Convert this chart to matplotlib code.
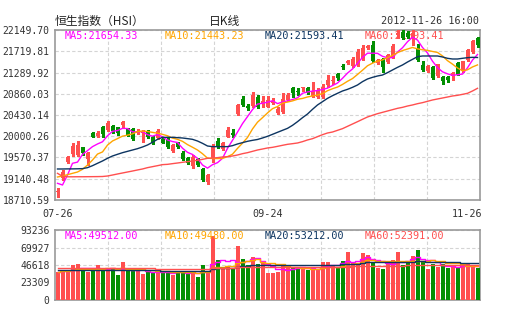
import numpy as np
import pandas as pd
import matplotlib
matplotlib.use("Agg")
import matplotlib.pyplot as plt
from matplotlib.transforms import blended_transform_factory

# HSI daily candles, 2012-07-26 .. 2012-11-26
opens = [18870, 19150, 19485, 19641, 19621, 19776, 19534, 20060, 20005, 20181,
         20126, 20208, 20181, 20228, 20141, 20141, 20060, 20066, 20113, 19992,
         19959, 19939, 19939, 19708, 19857, 19667, 19554, 19398, 19534, 19337,
         19074, 19534, 19910, 19742, 19991, 20060, 20451, 20748, 20612, 20612,
         20800, 20667, 20598, 20679, 20477, 20497, 20734, 20970, 20922, 20986,
         20970, 20815, 20800, 20800, 21037, 21128, 21260, 21415, 21476, 21421,
         21442, 21557, 21779, 21846, 21476, 21557, 21508, 21597, 22049, 22115,
         22083, 21982, 21779, 21448, 21326, 21395, 21213, 21193, 21193, 21213,
         21482, 21326, 21549, 21705, 21982]
highs = [18950, 19318, 19600, 19858, 19904, 19789, 19688, 20086, 20113, 20208,
         20303, 20228, 20194, 20315, 20161, 20167, 20141, 20127, 20127, 20010,
         20147, 19965, 19955, 19840, 19878, 19700, 19575, 19621, 19560, 19360,
         19230, 19844, 19955, 19880, 20194, 20157, 20660, 20815, 20653, 20895,
         20830, 20815, 20815, 20774, 20592, 20869, 20881, 20990, 20976, 21003,
         20990, 21092, 20976, 21057, 21239, 21219, 21280, 21462, 21550, 21603,
         21765, 21846, 21846, 21927, 21560, 21580, 21664, 21867, 22140, 22140,
         22120, 22145, 21867, 21523, 21445, 21415, 21465, 21213, 21210, 21290,
         21500, 21530, 21770, 21947, 22018]
lows = [18775, 19115, 19465, 19607, 19600, 19621, 19419, 19979, 19979, 19985,
        20113, 20066, 20025, 20167, 19998, 19925, 20046, 19890, 19960, 19850,
        19945, 19854, 19772, 19690, 19755, 19520, 19430, 19358, 19400, 19095,
        19044, 19479, 19760, 19720, 19975, 19985, 20430, 20610, 20531, 20600,
        20570, 20598, 20582, 20653, 20460, 20477, 20720, 20800, 20835, 20916,
        20860, 20800, 20774, 20774, 21003, 21057, 21138, 21351, 21462, 21401,
        21421, 21540, 21760, 21502, 21455, 21310, 21490, 21580, 21988, 21960,
        21990, 21846, 21523, 21330, 21310, 21150, 21200, 21057, 21088, 21138,
        21230, 21300, 21530, 21690, 21813]
closes = [18890, 19283, 19587, 19803, 19823, 19667, 19667, 19991, 20072, 20046,
          20274, 20113, 20072, 20295, 20025, 19939, 20113, 20106, 19979, 19870,
          20113, 19870, 19789, 19823, 19776, 19534, 19453, 19574, 19419, 19115,
          19216, 19803, 19777, 19857, 20126, 20030, 20633, 20633, 20566, 20835,
          20586, 20720, 20734, 20720, 20545, 20748, 20835, 20869, 20895, 21003,
          20881, 20922, 20922, 21003, 21138, 21148, 21173, 21401, 21529, 21557,
          21711, 21779, 21826, 21529, 21543, 21407, 21644, 21826, 22095, 21982,
          22015, 22095, 21543, 21347, 21428, 21180, 21452, 21114, 21140, 21274.65,
          21246, 21516, 21751, 21921, 21837.65]
volumes = [37700, 39000, 39000, 46000, 48000, 40000, 37700, 41300, 46000, 41300,
           41300, 41300, 33300, 50600, 38600, 38600, 41300, 34600, 38600, 36400,
           38600, 36400, 36400, 33300, 38600, 38600, 35500, 38600, 30600, 46200,
           37700, 85200, 53300, 41300, 44400, 41300, 71900, 54600, 46200, 57300,
           48000, 51000, 36400, 36400, 37300, 46600, 42200, 44400, 42200, 44400,
           40000, 42200, 40000, 50600, 50600, 46600, 44400, 52000, 64000, 48800,
           47500, 63000, 60000, 51000, 43000, 41300, 48800, 53300, 64000, 46600,
           48800, 58600, 66600, 51000, 41300, 48000, 44400, 48000, 42600, 43500,
           43500, 46600, 48000, 45300, 42600]

# moving averages carried in from days before the window
ma5_head = [19048, 19014, 19216, 19453]
ma10_head = [19176, 19196, 19223, 19250, 19277, 19331, 19418, 19519, 19640]
ma20 = [19338, 19338, 19340, 19340, 19342, 19345, 19365, 19405, 19453, 19500,
        19554, 19601, 19635, 19668, 19695, 19722, 19749, 19783, 19823, 19878,
        19938, 19978, 19978, 19978, 19972, 19965, 19952, 19938, 19904, 19857,
        19803, 19790, 19790, 19790, 19790, 19810, 19844, 19871, 19898, 19918,
        19935, 19965, 19999, 20039, 20080, 20120, 20160, 20221, 20295, 20376,
        20450, 20545, 20633, 20700, 20767, 20821, 20869, 20916, 20949, 20990,
        21037, 21105, 21159, 21192, 21219, 21239, 21287, 21341, 21394, 21442,
        21502, 21556, 21610, 21624, 21624, 21624, 21624, 21604, 21577, 21563,
        21563, 21577, 21590, 21597, 21593.41]
ma60 = [19250, 19190, 19180, 19180, 19181, 19181, 19182, 19183, 19184, 19186,
        19196, 19216, 19237, 19257, 19277, 19297, 19318, 19338, 19365, 19385,
        19405, 19426, 19432, 19446, 19459, 19473, 19486, 19500, 19513, 19533,
        19554, 19560, 19567, 19581, 19587, 19601, 19621, 19648, 19668, 19695,
        19722, 19742, 19763, 19776, 19796, 19817, 19837, 19850, 19864, 19891,
        19925, 19951, 19992, 20032, 20066, 20086, 20120, 20154, 20201, 20248,
        20295, 20343, 20390, 20424, 20457, 20484, 20511, 20538, 20565, 20585,
        20612, 20633, 20659, 20680, 20707, 20734, 20754, 20774, 20794, 20815,
        20828, 20848, 20869, 20916, 20970]
vol_ma20 = [39500, 39500, 39600, 39600, 39700, 39700, 39800, 39900, 40000, 40000,
            40100, 40200, 40200, 40300, 40300, 40300, 40200, 40100, 40000, 39800,
            39600, 39000, 38800, 38600, 38500, 38400, 38400, 38300, 38300, 38200,
            38200, 41200, 42000, 42400, 42800, 43000, 44600, 45200, 45600, 46200,
            46400, 46600, 46400, 46200, 46000, 46200, 46400, 46500, 46600, 46600,
            46500, 46400, 46600, 46800, 47000, 47000, 47200, 47400, 48200, 48400,
            48600, 49600, 50200, 50400, 50200, 50000, 50200, 50400, 50800, 50800,
            51000, 51200, 51400, 51600, 51200, 51000, 50800, 50600, 50400, 50200,
            50000, 49800, 49800, 49800, 49800]
vol_ma60 = [42600, 42600, 42500, 42500, 42500, 42400, 42400, 42400, 42300, 42300,
            42300, 42200, 42200, 42200, 42100, 42100, 42100, 42000, 42000, 42000,
            41900, 41900, 41900, 41800, 41800, 41800, 41700, 41700, 41700, 41600,
            41600, 42400, 42600, 42700, 42800, 42900, 43300, 43500, 43600, 43800,
            43900, 44000, 43900, 43800, 43700, 43700, 43800, 43800, 43900, 43900,
            43900, 43900, 44000, 44100, 44200, 44300, 44300, 44400, 44600, 44700,
            44800, 45000, 45200, 45300, 45400, 45400, 45500, 45600, 45800, 45900,
            46000, 46200, 46400, 46500, 46500, 46600, 46600, 46700, 46700, 46800,
            46800, 46900, 46900, 47000, 47100]

price_ticks = [18710.59, 19140.48, 19570.37, 20000.26, 20430.14,
               20860.03, 21289.92, 21719.81, 22149.70]
vol_ticks = [0, 23309, 46618, 69927, 93236]
date_labels = ["07-26", "09-24", "11-26"]
date_pos = [0, 42, 84]
price_ma_text = ["MA5:21654.33", "MA10:21443.23", "MA20:21593.41", "MA60:21593.41"]
vol_ma_text = ["MA5:49512.00", "MA10:49480.00", "MA20:53212.00", "MA60:52391.00"]

RED = "#ff4f4f"
GREEN = "#038f03"
MA_COLORS = ["#ff00ff", "#ffa500", "#0d3561", "#ff4f4f"]
MONO = "DejaVu Sans Mono"
CJK = ["Noto Sans CJK SC", "DejaVu Sans"]

o = np.array(opens, float)
h = np.array(highs, float)
l = np.array(lows, float)
c = np.array(closes, float)
v = np.array(volumes, float)
n = len(c)
x = np.arange(n)
up = c >= o
colors = np.where(up, RED, GREEN)

cs = pd.Series(c)
ma5 = cs.rolling(5).mean().to_numpy()
ma5[:4] = ma5_head
ma10 = cs.rolling(10).mean().to_numpy()
ma10[:9] = ma10_head
vs = pd.Series(v)
vol_ma5 = vs.rolling(5, min_periods=1).mean().to_numpy()
vol_ma10 = vs.rolling(10, min_periods=1).mean().to_numpy()

W, H = 505, 330
fig = plt.figure(figsize=(W / 100, H / 100), dpi=100)
ax = fig.add_axes([55 / W, 130 / H, 425 / W, 170 / H])
axv = fig.add_axes([55 / W, 30 / H, 425 / W, 70 / H])

vgrid = np.linspace(-0.5, n - 0.5, 9)[1:-1]
for a in (ax, axv):
    a.set_xlim(-0.5, n - 0.5)
    for s in a.spines.values():
        s.set_color("#9a9a9a")
        s.set_linewidth(1.2)
    a.set_xticks(vgrid)
    a.tick_params(axis="x", length=0, labelbottom=False)
    a.tick_params(axis="y", length=0, pad=4, labelsize=7, labelcolor="#333333")
    a.grid(True, color="#d4d4d4", linestyle=(0, (3, 2)), linewidth=0.8)
    a.set_axisbelow(True)

# price panel
ax.set_ylim(price_ticks[0], price_ticks[-1])
ax.set_yticks(price_ticks)
ax.set_yticklabels(["%.2f" % t for t in price_ticks], family=MONO)
ax.vlines(x, l, h, colors=colors, linewidth=1, zorder=3, antialiased=False)
body = np.maximum(np.abs(c - o), 14)
ax.bar(x, body, bottom=np.minimum(o, c), width=0.8, color=colors,
       linewidth=0, zorder=4, antialiased=False)
for ma, col in zip([ma5, ma10, ma20, ma60], MA_COLORS):
    ax.plot(x, ma, color=col, linewidth=1, zorder=5)

# volume panel
axv.set_ylim(0, vol_ticks[-1])
axv.set_yticks(vol_ticks)
axv.set_yticklabels([str(t) for t in vol_ticks], family=MONO)
axv.bar(x, v, width=0.8, color=colors, linewidth=0, zorder=3, antialiased=False)
for ma, col in zip([vol_ma5, vol_ma10, vol_ma20, vol_ma60], MA_COLORS):
    axv.plot(x, ma, color=col, linewidth=1, drawstyle="steps-mid", zorder=4)

# moving average readouts
for i, (pt, vt, col) in enumerate(zip(price_ma_text, vol_ma_text, MA_COLORS)):
    xp = (65 + 100 * i) / W
    ax.text(xp, 1 - 36 / H, pt, transform=fig.transFigure, color=col,
            family=MONO, fontsize=7.3, va="center", zorder=2)
    axv.text(xp, 1 - 236 / H, vt, transform=fig.transFigure, color=col,
             family=MONO, fontsize=7.3, va="center", zorder=5)

# date labels under the price panel
trans = blended_transform_factory(ax.transData, ax.transAxes)
for lab, pos, ha in zip(date_labels, date_pos, ["center", "center", "right"]):
    xx = pos + 0.9 if ha == "right" else pos
    ax.text(xx, -0.085, lab, transform=trans, ha=ha, va="center",
            family=MONO, fontsize=7.3, color="#333333")

fig.text(55 / W, 1 - 21 / H, "恒生指数（HSI）", family=CJK, fontsize=8.5,
         color="#222222", va="center")
fig.text(225 / W, 1 - 21 / H, "日K线", family=CJK, fontsize=8.5,
         color="#222222", va="center", ha="center")
fig.text(479 / W, 1 - 21 / H, "2012-11-26 16:00", family=MONO, fontsize=7.3,
         color="#333333", va="center", ha="right")

fig.savefig("out.png", dpi=100, facecolor="white")
